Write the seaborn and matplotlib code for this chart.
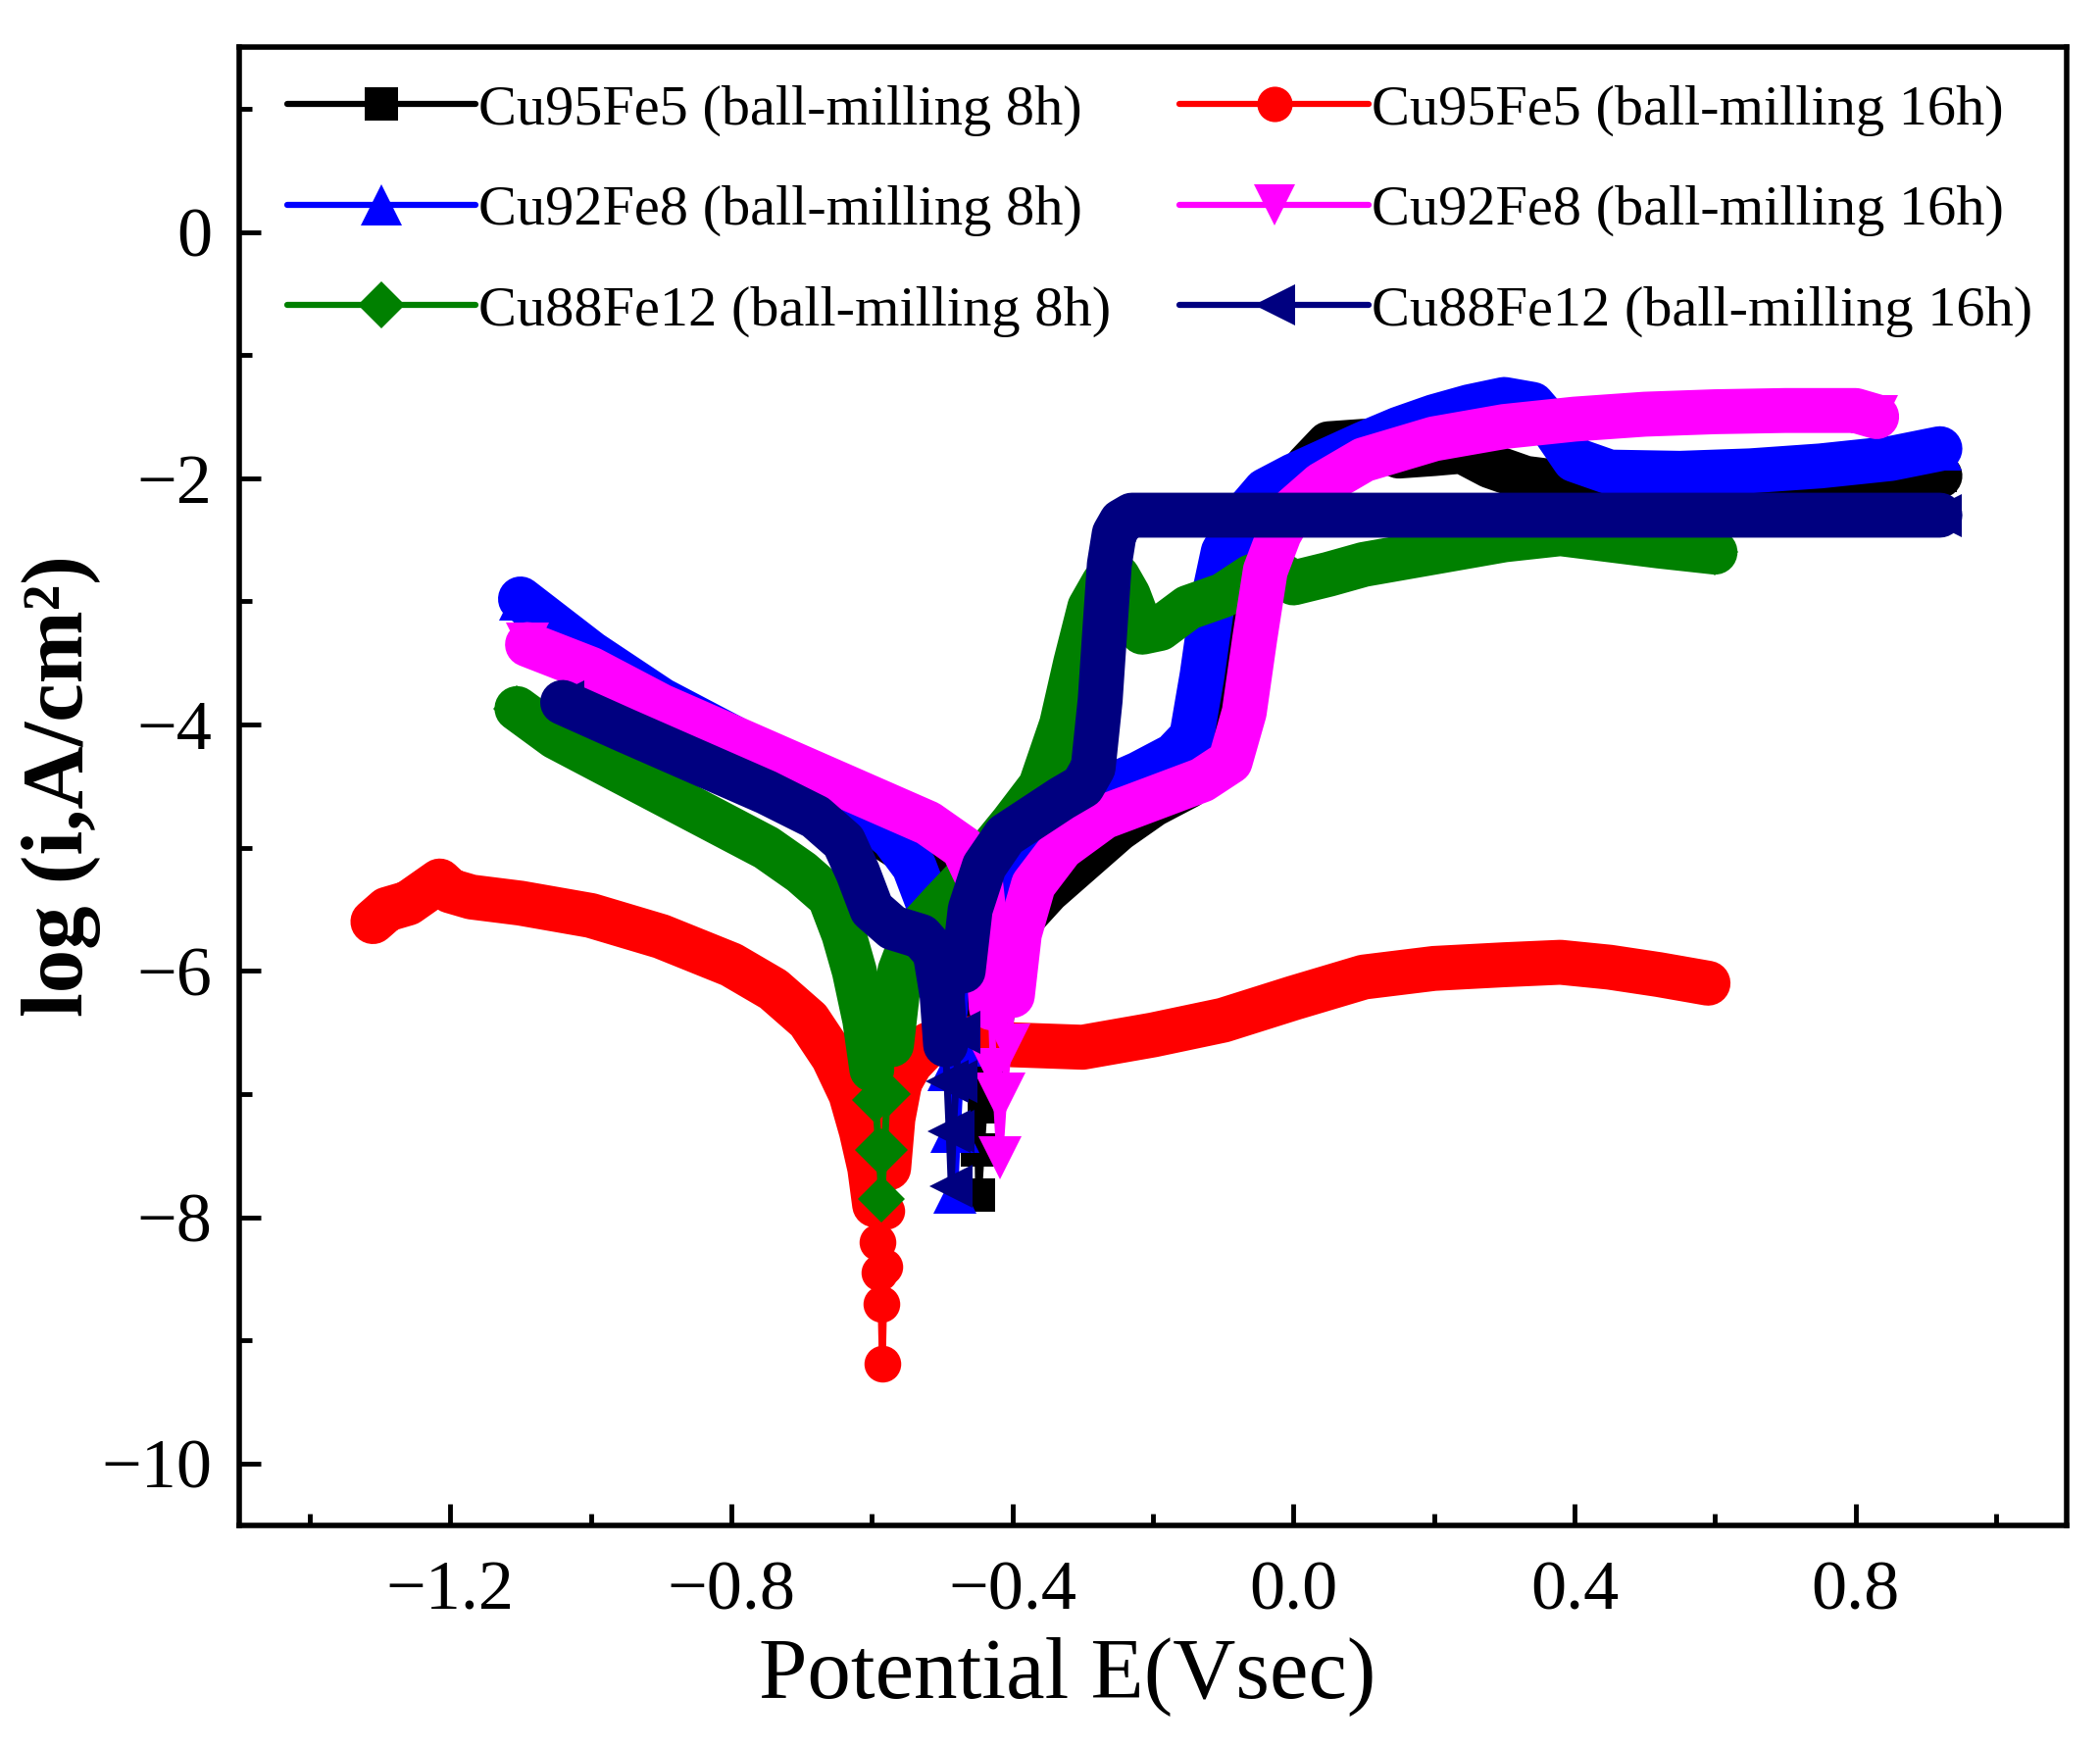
import matplotlib
matplotlib.use("Agg")
import numpy as np
import pandas as pd
import seaborn as sns
import matplotlib.pyplot as plt
from matplotlib.lines import Line2D
from matplotlib.ticker import MultipleLocator, FuncFormatter

# ---------------- data (E in V, log i in A/cm2) ----------------
# Cu95Fe5 ball-milling 8h (black, square)
blk_cath_E = [-1.08, -1.0, -0.9, -0.8, -0.7, -0.62, -0.56, -0.5, -0.47, -0.455, -0.45]
blk_cath_i = [-3.1, -3.5, -3.92, -4.2, -4.52, -4.78, -5.0, -5.3, -5.6, -6.1, -6.6]
blk_tip_E = [-0.45, -0.449, -0.448, -0.444, -0.44, -0.437]
blk_tip_i = [-6.9, -7.45, -7.82, -7.45, -7.1, -6.8]
blk_anod_E = [-0.435, -0.42, -0.39, -0.35, -0.3, -0.25, -0.2, -0.15, -0.1, -0.07, -0.05, -0.03,
              -0.01, 0.02, 0.05, 0.1, 0.15, 0.2, 0.24, 0.28, 0.33, 0.4, 0.5, 0.6, 0.7, 0.8, 0.92]
blk_anod_i = [-6.6, -6.0, -5.6, -5.35, -5.1, -4.85, -4.65, -4.5, -4.2, -3.6, -3.0, -2.5,
              -2.15, -1.9, -1.72, -1.7, -1.82, -1.8, -1.78, -1.9, -2.0, -2.05, -2.08, -2.08, -2.06, -2.03, -1.98]

# Cu95Fe5 ball-milling 16h (red, circle)
red_cath_E = [-1.31, -1.29, -1.26, -1.235, -1.215, -1.2, -1.17, -1.1, -1.0, -0.9, -0.8, -0.74,
              -0.69, -0.655, -0.63, -0.615, -0.603, -0.596]
red_cath_i = [-5.6, -5.5, -5.45, -5.35, -5.27, -5.35, -5.4, -5.45, -5.55, -5.72, -5.95, -6.15,
              -6.4, -6.7, -7.0, -7.3, -7.6, -7.9]
red_tip_E = [-0.592, -0.589, -0.587, -0.585, -0.582, -0.579]
red_tip_i = [-8.2, -8.45, -8.7, -9.19, -8.4, -7.95]
red_anod_E = [-0.576, -0.57, -0.56, -0.545, -0.52, -0.5, -0.45, -0.4, -0.3, -0.2, -0.1, 0.0,
              0.1, 0.2, 0.3, 0.38, 0.45, 0.52, 0.59]
red_anod_i = [-7.6, -7.2, -6.9, -6.75, -6.6, -6.55, -6.55, -6.6, -6.62, -6.52, -6.4, -6.22,
              -6.05, -5.98, -5.95, -5.93, -5.97, -6.03, -6.1]

# Cu92Fe8 ball-milling 8h (blue, triangle up)
blu_cath_E = [-1.10, -1.05, -1.0, -0.9, -0.8, -0.7, -0.62, -0.57, -0.54, -0.52, -0.505, -0.495]
blu_cath_i = [-2.98, -3.2, -3.42, -3.8, -4.1, -4.42, -4.68, -4.92, -5.15, -5.45, -5.85, -6.3]
blu_tip_E = [-0.49, -0.486, -0.482, -0.478, -0.472]
blu_tip_i = [-6.8, -7.3, -7.8, -7.3, -6.6]
blu_anod_E = [-0.465, -0.45, -0.42, -0.37, -0.3, -0.22, -0.17, -0.145, -0.13, -0.115, -0.1, -0.07,
              -0.04, 0.0, 0.05, 0.1, 0.15, 0.2, 0.25, 0.3, 0.34, 0.37, 0.40, 0.45, 0.55, 0.65,
              0.75, 0.85, 0.92]
blu_anod_i = [-6.0, -5.55, -5.15, -4.85, -4.6, -4.4, -4.25, -4.1, -3.6, -3.0, -2.6, -2.3,
              -2.1, -1.98, -1.85, -1.72, -1.6, -1.5, -1.42, -1.36, -1.4, -1.6, -1.85, -1.95, -1.96,
              -1.94, -1.9, -1.84, -1.76]

# Cu92Fe8 ball-milling 16h (magenta, triangle down)
mag_cath_E = [-1.09, -1.0, -0.9, -0.8, -0.7, -0.6, -0.52, -0.47, -0.445, -0.435, -0.43]
mag_cath_i = [-3.35, -3.55, -3.85, -4.1, -4.35, -4.6, -4.8, -5.0, -5.3, -5.8, -6.3]
mag_tip_E = [-0.427, -0.423, -0.418, -0.412, -0.405]
mag_tip_i = [-6.8, -7.0, -7.52, -7.0, -6.6]
mag_anod_E = [-0.40, -0.39, -0.37, -0.33, -0.27, -0.2, -0.13, -0.09, -0.07, -0.055, -0.04, -0.02,
              0.0, 0.04, 0.1, 0.2, 0.3, 0.4, 0.5, 0.6, 0.7, 0.8, 0.83]
mag_anod_i = [-6.2, -5.7, -5.3, -5.0, -4.75, -4.6, -4.45, -4.3, -3.9, -3.3, -2.75, -2.45,
              -2.25, -2.05, -1.85, -1.68, -1.58, -1.52, -1.48, -1.46, -1.45, -1.45, -1.5]

# Cu88Fe12 ball-milling 8h (green, diamond)
grn_cath_E = [-1.105, -1.05, -0.95, -0.85, -0.75, -0.7, -0.66, -0.64, -0.625, -0.61, -0.6]
grn_cath_i = [-3.87, -4.1, -4.4, -4.7, -5.0, -5.2, -5.4, -5.7, -6.0, -6.4, -6.8]
grn_tip_E = [-0.595, -0.59, -0.586, -0.582, -0.578]
grn_tip_i = [-7.05, -7.45, -7.85, -7.45, -7.0]
grn_anod_E = [-0.572, -0.56, -0.54, -0.5, -0.45, -0.4, -0.36, -0.33, -0.31, -0.29, -0.27, -0.25,
              -0.235, -0.215, -0.19, -0.15, -0.1, -0.06, -0.03, 0.0, 0.05, 0.1, 0.2, 0.3, 0.38,
              0.45, 0.52, 0.6]
grn_anod_i = [-6.6, -6.0, -5.7, -5.45, -5.15, -4.8, -4.5, -4.0, -3.5, -3.05, -2.85, -2.8,
              -2.95, -3.25, -3.22, -3.05, -2.95, -2.8, -2.74, -2.85, -2.78, -2.7, -2.6, -2.5, -2.45,
              -2.5, -2.55, -2.6]

# Cu88Fe12 ball-milling 16h (navy, triangle left)
nav_cath_E = [-1.04, -0.95, -0.85, -0.75, -0.68, -0.64, -0.62, -0.6, -0.57, -0.53, -0.51, -0.5, -0.495]
nav_cath_i = [-3.82, -4.05, -4.3, -4.55, -4.75, -4.95, -5.2, -5.5, -5.65, -5.72, -5.85, -6.2, -6.6]
nav_tip_E = [-0.493, -0.49, -0.487, -0.484, -0.48, -0.476]
nav_tip_i = [-6.9, -7.3, -7.75, -7.3, -6.9, -6.5]
nav_anod_E = [-0.47, -0.46, -0.44, -0.41, -0.37, -0.33, -0.3, -0.285, -0.275, -0.268, -0.262,
              -0.255, -0.245, -0.23, -0.21, -0.1, 0.0, 0.2, 0.4, 0.6, 0.8, 0.92]
nav_anod_i = [-6.0, -5.5, -5.15, -4.9, -4.75, -4.6, -4.5, -4.35, -3.8, -3.2, -2.7,
              -2.45, -2.35, -2.3, -2.3, -2.3, -2.3, -2.3, -2.3, -2.3, -2.3, -2.3]

labels = ["Cu95Fe5 (ball-milling 8h)", "Cu95Fe5 (ball-milling 16h)",
          "Cu92Fe8 (ball-milling 8h)", "Cu92Fe8 (ball-milling 16h)",
          "Cu88Fe12 (ball-milling 8h)", "Cu88Fe12 (ball-milling 16h)"]

x_ticks = [-1.2, -0.8, -0.4, 0.0, 0.4, 0.8]
y_ticks = [-10, -8, -6, -4, -2, 0]

# ---------------- style ----------------
sns.set_style("ticks")
plt.rcParams['font.family'] = ['Liberation Serif', 'DejaVu Serif']
plt.rcParams['axes.unicode_minus'] = True
for k in ['text.color', 'axes.labelcolor', 'xtick.color', 'ytick.color', 'axes.edgecolor']:
    plt.rcParams[k] = 'black'

fig = plt.figure(figsize=(21.42, 17.82), dpi=100)
ax = fig.add_axes([0.114, 0.127, 0.870, 0.846])

LW = 33
series = [
    (blk_cath_E, blk_cath_i, blk_tip_E, blk_tip_i, blk_anod_E, blk_anod_i, "black", "s", 24),
    (red_cath_E, red_cath_i, red_tip_E, red_tip_i, red_anod_E, red_anod_i, "#ff0000", "o", 27),
    (blu_cath_E, blu_cath_i, blu_tip_E, blu_tip_i, blu_anod_E, blu_anod_i, "#0000ff", "^", 32),
    (grn_cath_E, grn_cath_i, grn_tip_E, grn_tip_i, grn_anod_E, grn_anod_i, "#008000", "D", 24),
    (mag_cath_E, mag_cath_i, mag_tip_E, mag_tip_i, mag_anod_E, mag_anod_i, "#ff00ff", "v", 32),
    (nav_cath_E, nav_cath_i, nav_tip_E, nav_tip_i, nav_anod_E, nav_anod_i, "#000080", "<", 32),
]

for (xc, yc, xt, yt, xa, ya, col, mk, ms) in series:
    for xs, ys in ((xc, yc), (xa, ya)):
        sns.lineplot(x=xs, y=ys, sort=False, estimator=None, color=col, lw=LW, ax=ax,
                     solid_joinstyle='round', solid_capstyle='round')
    tx = [xc[-1]] + list(xt) + [xa[0]]
    ty = [yc[-1]] + list(yt) + [ya[0]]
    sns.lineplot(x=tx, y=ty, sort=False, estimator=None, color=col, lw=5, ax=ax)
    sns.lineplot(x=list(xt) + [xc[0], xa[-1]], y=list(yt) + [yc[0], ya[-1]], sort=False,
                 estimator=None, color=col, lw=0, marker=mk, markersize=ms,
                 markeredgewidth=0, ax=ax, linestyle='none')

ax.set_xlim(-1.5, 1.1)
ax.set_ylim(-10.5, 1.5)
ax.set_xticks(x_ticks)
ax.xaxis.set_minor_locator(MultipleLocator(0.2))
ax.set_yticks(y_ticks)
ax.yaxis.set_minor_locator(MultipleLocator(1))
ax.xaxis.set_major_formatter(FuncFormatter(lambda v, p: f"{v:.1f}".replace("-", "\u2212")))
ax.yaxis.set_major_formatter(FuncFormatter(lambda v, p: f"{v:.0f}".replace("-", "\u2212")))

ax.tick_params(which='major', direction='in', length=16, width=3.5, labelsize=52,
               top=False, right=False, colors='black')
ax.tick_params(which='minor', direction='in', length=9, width=3.5, top=False, right=False,
               colors='black')
ax.tick_params(axis='x', which='major', pad=26)
ax.tick_params(axis='y', which='major', pad=20)
for sp in ax.spines.values():
    sp.set_linewidth(4)
    sp.set_color('black')

ax.set_xlabel("Potential E(Vsec)", fontsize=64, color='black')
ax.set_ylabel("log (i,A/cm²)", fontsize=64, fontweight='bold', color='black')
ax.xaxis.set_label_coords(0.453, -0.075)
ax.yaxis.set_label_coords(-0.076, 0.5)

# legend (row-major order as in the figure)
cols = ["black", "#ff0000", "#0000ff", "#ff00ff", "#008000", "#000080"]
mks = ["s", "o", "^", "v", "D", "<"]
mss = [24, 26, 30, 30, 24, 30]
handles = [Line2D([], [], color=c, lw=4.5, marker=m, markersize=s, markeredgewidth=0)
           for c, m, s in zip(cols, mks, mss)]
order = [0, 2, 4, 1, 3, 5]
leg = ax.legend([handles[i] for i in order], [labels[i] for i in order], ncol=2, frameon=False,
                loc='upper left', bbox_to_anchor=(0.026, 0.975), borderaxespad=0, borderpad=0,
                fontsize=42, handlelength=3.3, handletextpad=0.05, labelspacing=0.85,
                columnspacing=1.2)
for t in leg.get_texts():
    t.set_color('black')

fig.savefig("out.png", dpi=100)
